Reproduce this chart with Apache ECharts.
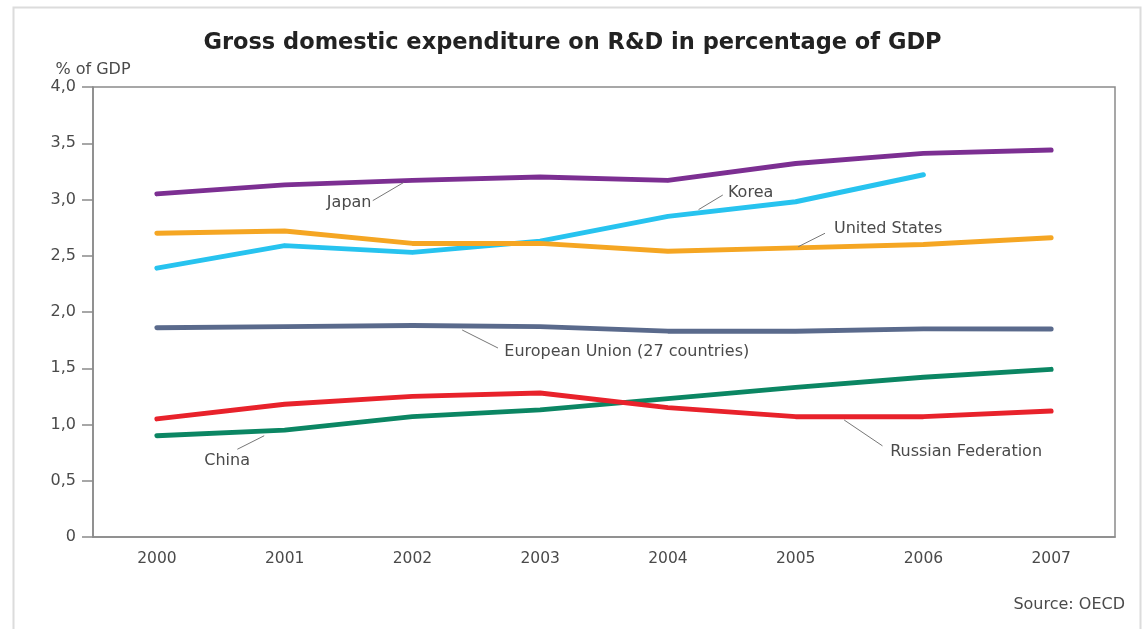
<!DOCTYPE html>
<html>
<head>
<meta charset="utf-8">
<script src="https://cdn.jsdelivr.net/npm/echarts@6/dist/echarts.min.js"></script>
<style>
html,body{margin:0;padding:0;background:#fff;}
#c{width:1145px;height:629px;}
</style>
</head>
<body>
<div id="c"></div>
<script>
const years = ['2000','2001','2002','2003','2004','2005','2006','2007'];
const japan  = [3.05, 3.13, 3.17, 3.20, 3.17, 3.32, 3.41, 3.44];
const korea  = [2.39, 2.59, 2.53, 2.63, 2.85, 2.98, 3.22, '-'];
const usa    = [2.70, 2.72, 2.61, 2.61, 2.54, 2.57, 2.60, 2.66];
const eu     = [1.86, 1.87, 1.88, 1.87, 1.83, 1.83, 1.85, 1.85];
const china  = [0.90, 0.95, 1.07, 1.13, 1.23, 1.33, 1.42, 1.49];
const russia = [1.05, 1.18, 1.25, 1.28, 1.15, 1.07, 1.07, 1.12];
const yTicks = [0, 0.5, 1.0, 1.5, 2.0, 2.5, 3.0, 3.5, 4.0];

// Annotation anchors in data space: [category index (fractional), value]
const notes = [
  {text:'Japan', from:[1.93,3.15], to:[1.69,2.99], at:[1.68,2.97], align:'right'},
  {text:'Korea', from:[4.24,2.91], to:[4.43,3.04], at:[4.47,3.06], align:'left'},
  {text:'United States', from:[5.02,2.58], to:[5.23,2.70], at:[5.30,2.74], align:'left'},
  {text:'European Union (27 countries)', from:[2.39,1.84], to:[2.67,1.68], at:[2.72,1.645], align:'left'},
  {text:'China', from:[0.84,0.90], to:[0.63,0.78], at:[0.55,0.68], align:'center'},
  {text:'Russian Federation', from:[5.38,1.04], to:[5.68,0.81], at:[5.74,0.755], align:'left'}
];

const chart = echarts.init(document.getElementById('c'));
const FONT = '"DejaVu Sans", Verdana, sans-serif';
function mk(name, data, color){
  return {name, type:'line', data, showSymbol:false, symbol:'none',
    lineStyle:{width:5, color, cap:'round', join:'round'}, itemStyle:{color},
    emphasis:{disabled:true}, z:3};
}
chart.setOption({
  animation:false,
  backgroundColor:'#fff',
  textStyle:{fontFamily:FONT},
  title:{text:'Gross domestic expenditure on R&D in percentage of GDP', left:'center', top:27,
    textStyle:{fontFamily:FONT, fontSize:22.5, fontWeight:'bold', color:'#222'}},
  grid:{left:93, right:30, top:87, bottom:92, show:true, borderColor:'#8a8a8a', borderWidth:1.5, backgroundColor:'transparent'},
  xAxis:{type:'category', data:years, boundaryGap:true,
    axisLine:{lineStyle:{color:'#8a8a8a', width:1.5}},
    axisTick:{alignWithLabel:true, length:8, lineStyle:{color:'#8a8a8a', width:1.5}},
    axisLabel:{color:'#4a4a4a', fontSize:15.5, margin:14, fontFamily:FONT}},
  yAxis:{type:'value', min:0, max:4, interval:0.5, name:'% of GDP', nameLocation:'end', nameGap:9,
    nameTextStyle:{color:'#4a4a4a', fontSize:16, fontFamily:FONT, align:'center'},
    axisLine:{show:true, lineStyle:{color:'#8a8a8a', width:1.5}},
    axisTick:{show:true, length:11, lineStyle:{color:'#8a8a8a', width:1.5}},
    splitLine:{show:false},
    axisLabel:{color:'#4a4a4a', fontSize:16, margin:17, fontFamily:FONT,
      formatter:v => v === 0 ? '0' : v.toFixed(1).replace('.', ',')}},
  series:[
    mk('Japan', japan, '#7c2f92'),
    mk('Korea', korea, '#27c3ef'),
    mk('United States', usa, '#f5a623'),
    mk('European Union (27 countries)', eu, '#5a6a8c'),
    mk('China', china, '#0b8663'),
    mk('Russian Federation', russia, '#e8222b')
  ]
});

function px(p){
  const i0 = Math.floor(p[0]), f = p[0]-i0;
  const a = chart.convertToPixel({xAxisIndex:0}, i0);
  const b = chart.convertToPixel({xAxisIndex:0}, i0+1);
  return [a + f*(b-a), chart.convertToPixel({yAxisIndex:0}, p[1])];
}
const g = [];
g.push({type:'rect', left:11, top:5, shape:{width:1127, height:640}, silent:true,
  style:{fill:'none', stroke:'#dcdcdc', lineWidth:2}});
notes.forEach(n => {
  const a = px(n.from), b = px(n.to), t = px(n.at);
  g.push({type:'line', shape:{x1:a[0], y1:a[1], x2:b[0], y2:b[1]}, style:{stroke:'#777', lineWidth:1}, z:10, silent:true});
  g.push({type:'text', x:t[0], y:t[1], style:{text:n.text, fill:'#4a4a4a', font:'16px ' + FONT, textAlign:n.align, textVerticalAlign:'middle'}, z:10, silent:true});
});
g.push({type:'text', x:1125, y:605, style:{text:'Source: OECD', fill:'#4a4a4a', font:'16px ' + FONT, textAlign:'right', textVerticalAlign:'middle'}, silent:true});
chart.setOption({graphic:g});
</script>
</body>
</html>
